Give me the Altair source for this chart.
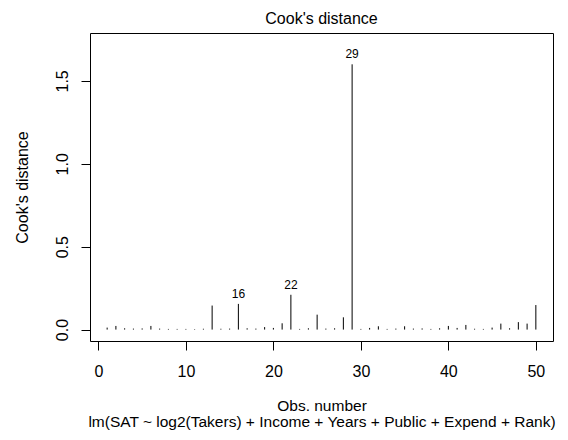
import altair as alt
import pandas as pd

# ---- data ----
obs = list(range(1, 51))
cook = [0.012, 0.022, 0.008, 0.006, 0.007, 0.022, 0.006, 0.004, 0.004, 0.004,
        0.003, 0.005, 0.145, 0.005, 0.006, 0.155, 0.008, 0.006, 0.015, 0.010,
        0.038, 0.210, 0.004, 0.008, 0.090, 0.006, 0.008, 0.074, 1.600, 0.004,
        0.010, 0.020, 0.004, 0.006, 0.020, 0.006, 0.007, 0.004, 0.008, 0.022,
        0.010, 0.028, 0.005, 0.004, 0.012, 0.036, 0.008, 0.045, 0.036, 0.148]
ids = [29, 22, 16]
x_ticks = [0, 10, 20, 30, 40, 50]
y_ticks = [0.0, 0.5, 1.0, 1.5]
main_title = "Cook's distance"
x_label = "Obs. number"
sub_caption = "lm(SAT ~ log2(Takers) + Income + Years + Public + Expend + Rank)"
y_label = "Cook's distance"

df = pd.DataFrame({"obs": obs, "cook": cook})
df["label"] = [str(o) if o in ids else "" for o in obs]

# R-style axis ranges (4% extension, ylim = 1.075 * max)
xr = (max(obs) - min(obs)) * 0.04
ymx = max(cook) * 1.075
yr = ymx * 0.04
xscale = alt.Scale(domain=[min(obs) - xr, max(obs) + xr], nice=False, zero=False)
yscale = alt.Scale(domain=[-yr, ymx + yr], nice=False, zero=False)

FONT = "Liberation Sans"
FS = 16
W, H = 463, 308

x_axis = alt.Axis(values=x_ticks, format="d", domain=False, grid=False,
                  tickSize=9, tickColor="black", tickWidth=1,
                  labelFont=FONT, labelFontSize=FS, labelColor="black",
                  labelPadding=13, labelFlush=False, labelOverlap=False,
                  title=[x_label, sub_caption], titleFont=FONT, titleFontSize=15.5,
                  titleFontWeight="normal", titleColor="black",
                  titleX=W / 2, titleY=57, titleAlign="center",
                  titleBaseline="top", titleLineHeight=16)

y_axis = alt.Axis(values=y_ticks, format=".1f", domain=False, grid=False,
                  tickSize=9, tickColor="black", tickWidth=1,
                  labelFont=FONT, labelFontSize=FS, labelColor="black",
                  labelAngle=270, labelAlign="center", labelBaseline="alphabetic",
                  labelPadding=14, labelFlush=False, labelOverlap=False,
                  title=y_label, titleFont=FONT, titleFontSize=FS,
                  titleFontWeight="normal", titleColor="black",
                  titleAngle=270, titleX=-68, titleY=H / 2,
                  titleAlign="center", titleBaseline="middle")

base = alt.Chart(df)

rules = base.mark_rule(color="black", strokeWidth=1).encode(
    x=alt.X("obs:Q", scale=xscale, axis=x_axis),
    y=alt.Y("cook:Q", scale=yscale, axis=y_axis),
    y2=alt.datum(0),
)

labels = base.transform_filter(alt.datum.label != "").mark_text(
    font=FONT, fontSize=12, color="black", baseline="bottom", align="center", dy=-3
).encode(
    x=alt.X("obs:Q", scale=xscale),
    y=alt.Y("cook:Q", scale=yscale),
    text="label:N",
)

chart = alt.layer(rules, labels).properties(
    width=W, height=H,
    title=alt.TitleParams(text=main_title, font=FONT, fontSize=FS,
                          fontWeight="normal", color="black", anchor="middle",
                          frame="group", baseline="bottom", offset=6, dy=16),
    padding={"left": 82, "top": 25, "right": 7, "bottom": 91},
    autosize=alt.AutoSizeParams(type="none"),
).configure(
    background="white",
    view=alt.ViewConfig(stroke="black", strokeWidth=1),
)

chart.save("out.html", embed_options={"renderer": "svg", "actions": False})
